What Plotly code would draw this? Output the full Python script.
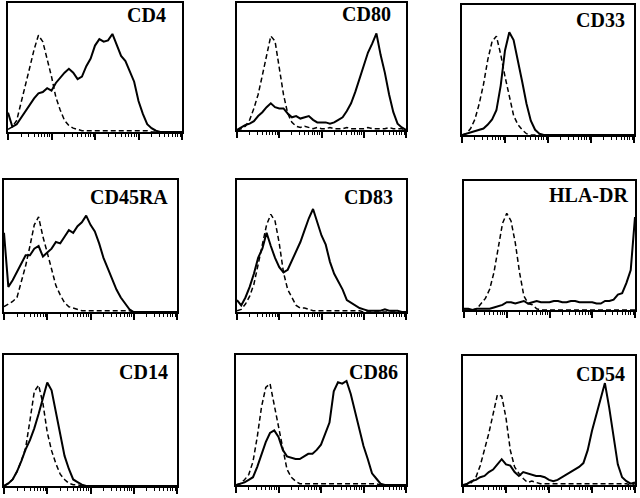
import math
import plotly.graph_objs as go
from plotly.subplots import make_subplots

# fluorescence channel in log decades (10^0 .. 10^4)
DECADES = [0.0, 0.1, 0.2, 0.3, 0.4, 0.5, 0.6, 0.7, 0.8, 0.9,
           1.0, 1.1, 1.2, 1.3, 1.4, 1.5, 1.6, 1.7, 1.8, 1.9,
           2.0, 2.1, 2.2, 2.3, 2.4, 2.5, 2.6, 2.7, 2.8, 2.9,
           3.0, 3.1, 3.2, 3.3, 3.4, 3.5, 3.6, 3.7, 3.8, 3.9, 4.0]

MARKERS = ["CD4", "CD80", "CD33", "CD45RA", "CD83", "HLA-DR", "CD14", "CD86", "CD54"]

# relative cell counts (% of panel height): isotype control (dashed) / stained (solid)
CD4_CONTROL = [2, 4, 9, 22, 35, 50, 64, 75, 70, 57, 43, 27, 17, 9, 5, 3, 2, 1, 1, 1,
               1, 1, 1, 1, 1, 1, 1, 1, 1, 1, 1, 1, 1, 0, 0, 0, 0, 0, 0, 0, 0]
CD4_STAIN = [15, 4, 6, 11, 17, 21, 26, 30, 31, 34, 32, 38, 42, 46, 49, 46, 41, 43, 51, 57,
             67, 72, 70, 71, 76, 68, 59, 55, 47, 39, 24, 14, 6, 3, 1, 0, 0, 0, 0, 0, 0]

CD80_CONTROL = [0, 1, 3, 8, 17, 28, 43, 60, 74, 70, 49, 28, 13, 6, 3, 2, 3, 2, 1, 2,
                1, 1, 2, 1, 1, 1, 2, 1, 1, 1, 1, 2, 1, 1, 1, 1, 2, 1, 1, 1, 0]
CD80_STAIN = [0, 2, 4, 5, 7, 11, 14, 18, 21, 18, 17, 17, 13, 10, 11, 9, 10, 11, 8, 6,
              6, 6, 5, 6, 8, 10, 15, 21, 30, 40, 50, 61, 68, 76, 59, 45, 28, 14, 5, 2, 0]

CD33_CONTROL = [0, 1, 5, 12, 24, 39, 58, 72, 76, 62, 45, 30, 15, 8, 4, 1, 0, 0, 0, 0,
                0, 0, 0, 0, 0, 0, 0, 0, 0, 0, 0, 0, 0, 0, 0, 0, 0, 0, 0, 0, 0]
CD33_STAIN = [0, 1, 2, 3, 4, 5, 8, 12, 19, 38, 65, 79, 73, 58, 41, 24, 11, 4, 1, 0,
              0, 0, 0, 0, 0, 0, 0, 0, 0, 0, 0, 0, 0, 0, 0, 0, 0, 0, 0, 0, 0]

CD45RA_CONTROL = [4, 6, 8, 11, 23, 35, 50, 66, 72, 57, 45, 33, 20, 13, 7, 4, 3, 2, 1, 1,
                  1, 1, 1, 1, 1, 1, 1, 1, 1, 1, 0, 0, 0, 0, 0, 0, 0, 0, 0, 0, 0]
CD45RA_STAIN = [60, 19, 24, 30, 36, 43, 43, 48, 50, 42, 45, 48, 53, 52, 57, 62, 60, 65, 68, 73,
                66, 61, 52, 41, 33, 25, 17, 11, 6, 2, 0, 0, 0, 0, 0, 0, 0, 0, 0, 0, 0]

CD83_CONTROL = [1, 2, 6, 12, 21, 36, 51, 66, 74, 69, 52, 30, 17, 11, 5, 3, 3, 2, 1, 1,
                1, 1, 1, 1, 1, 1, 1, 1, 1, 1, 0, 0, 0, 0, 0, 0, 0, 0, 0, 0, 0]
CD83_STAIN = [9, 5, 11, 19, 29, 41, 48, 60, 50, 41, 34, 30, 32, 39, 46, 53, 62, 71, 78, 67,
              58, 51, 38, 29, 23, 17, 9, 7, 5, 3, 2, 1, 1, 1, 1, 2, 1, 1, 1, 0, 0]

HLADR_CONTROL = [0, 0, 0, 1, 5, 9, 16, 29, 48, 67, 75, 69, 52, 29, 11, 5, 4, 1, 0, 0,
                 0, 0, 0, 0, 0, 0, 0, 0, 0, 0, 0, 0, 0, 0, 0, 0, 0, 0, 0, 0, 0]
HLADR_STAIN = [1, 1, 0, 1, 1, 1, 1, 2, 3, 4, 6, 6, 5, 6, 7, 5, 6, 7, 6, 6,
               6, 7, 7, 6, 6, 7, 7, 6, 6, 6, 6, 5, 5, 7, 7, 8, 12, 13, 21, 31, 72]

CD14_CONTROL = [0, 2, 5, 11, 19, 29, 50, 72, 77, 63, 41, 27, 17, 9, 5, 2, 1, 1, 0, 0,
                0, 0, 0, 0, 0, 0, 0, 0, 0, 0, 0, 0, 0, 0, 0, 0, 0, 0, 0, 0, 0]
CD14_STAIN = [0, 2, 5, 11, 19, 28, 35, 44, 55, 67, 79, 73, 56, 38, 23, 13, 5, 3, 1, 0,
              0, 0, 0, 0, 0, 0, 0, 0, 0, 0, 0, 0, 0, 0, 0, 0, 0, 0, 0, 0, 0]

CD86_CONTROL = [0, 1, 4, 8, 18, 37, 60, 75, 78, 61, 45, 26, 12, 6, 3, 1, 1, 1, 1, 1,
                1, 1, 1, 1, 1, 1, 1, 1, 1, 1, 1, 1, 1, 1, 0, 0, 0, 0, 0, 0, 0]
CD86_STAIN = [0, 1, 2, 4, 6, 14, 24, 33, 40, 42, 37, 27, 22, 21, 20, 20, 22, 24, 24, 27,
              31, 39, 48, 72, 79, 78, 80, 70, 56, 44, 30, 20, 9, 5, 1, 0, 0, 0, 0, 0, 0]

CD54_CONTROL = [0, 0, 2, 6, 15, 27, 40, 55, 70, 69, 52, 27, 14, 9, 5, 2, 3, 2, 1, 1,
                1, 1, 1, 1, 1, 1, 1, 1, 1, 1, 1, 1, 1, 1, 1, 1, 1, 1, 1, 0, 1]
CD54_STAIN = [0, 1, 3, 4, 6, 7, 10, 12, 16, 20, 16, 15, 10, 7, 10, 9, 8, 7, 7, 6,
              4, 3, 4, 6, 8, 10, 12, 14, 17, 27, 42, 55, 68, 79, 60, 37, 16, 6, 3, 1, 2]

CONTROLS = [CD4_CONTROL, CD80_CONTROL, CD33_CONTROL, CD45RA_CONTROL, CD83_CONTROL,
            HLADR_CONTROL, CD14_CONTROL, CD86_CONTROL, CD54_CONTROL]
STAINS = [CD4_STAIN, CD80_STAIN, CD33_STAIN, CD45RA_STAIN, CD83_STAIN,
          HLADR_STAIN, CD14_STAIN, CD86_STAIN, CD54_STAIN]

W, H = 640, 498

# panel boxes in pixels: (left, right, top, bottom)
boxes = [(8, 182, 3, 132), (237, 406, 3, 130), (462, 634, 5, 135),
         (4, 177, 180, 312), (237, 406, 180, 312), (464, 635, 181, 310),
         (4, 177, 355, 486), (236, 406, 355, 485), (463, 635, 356, 485)]
# label anchor: (right edge, cap top) in pixels
label_pos = [(168, 8), (393, 7), (627, 13),
             (170, 190), (395, 190), (630, 188),
             (170, 365), (400, 365), (627, 367)]

minor_vals = [k + math.log10(m) for k in range(4) for m in range(2, 10)]

fig = make_subplots(rows=3, cols=3)

for i, name in enumerate(MARKERS):
    r, c = i // 3 + 1, i % 3 + 1
    fig.add_trace(go.Scatter(x=DECADES, y=CONTROLS[i], mode="lines",
                             line=dict(color="black", width=1.5, dash="5px,3px"),
                             name=name + " control", showlegend=False),
                  row=r, col=c)
    fig.add_trace(go.Scatter(x=DECADES, y=STAINS[i], mode="lines",
                             line=dict(color="black", width=2),
                             name=name, showlegend=False),
                  row=r, col=c)

    l, rr, t, b = boxes[i]
    fig.update_xaxes(domain=[l / W, rr / W], range=[0, 4],
                     showline=True, mirror=True, linecolor="black", linewidth=1.5,
                     showgrid=False, zeroline=False, showticklabels=False,
                     tickmode="array", tickvals=[0, 1, 2, 3, 4],
                     ticks="outside", ticklen=6, tickwidth=1.5, tickcolor="black",
                     minor=dict(tickmode="array", tickvals=minor_vals, ticks="outside",
                                ticklen=3, tickwidth=1, tickcolor="black", showgrid=False),
                     row=r, col=c)
    fig.update_yaxes(domain=[1 - b / H, 1 - t / H], range=[0, 100],
                     showline=True, mirror=True, linecolor="black", linewidth=1.5,
                     showgrid=False, zeroline=False, showticklabels=False, ticks="",
                     row=r, col=c)

    lx, ly = label_pos[i]
    fig.add_annotation(text="<b>" + name + "</b>", xref="paper", yref="paper",
                       x=lx / W, y=1 - (ly + 7) / H, xanchor="right", yanchor="middle",
                       showarrow=False,
                       font=dict(family="Liberation Serif", size=20, color="black"))

fig.update_layout(width=W, height=H, margin=dict(l=0, r=0, t=0, b=0),
                  paper_bgcolor="white", plot_bgcolor="white")

fig.write_html("out.html", config={"displayModeBar": False},
               post_script="document.body.style.margin='0';")
